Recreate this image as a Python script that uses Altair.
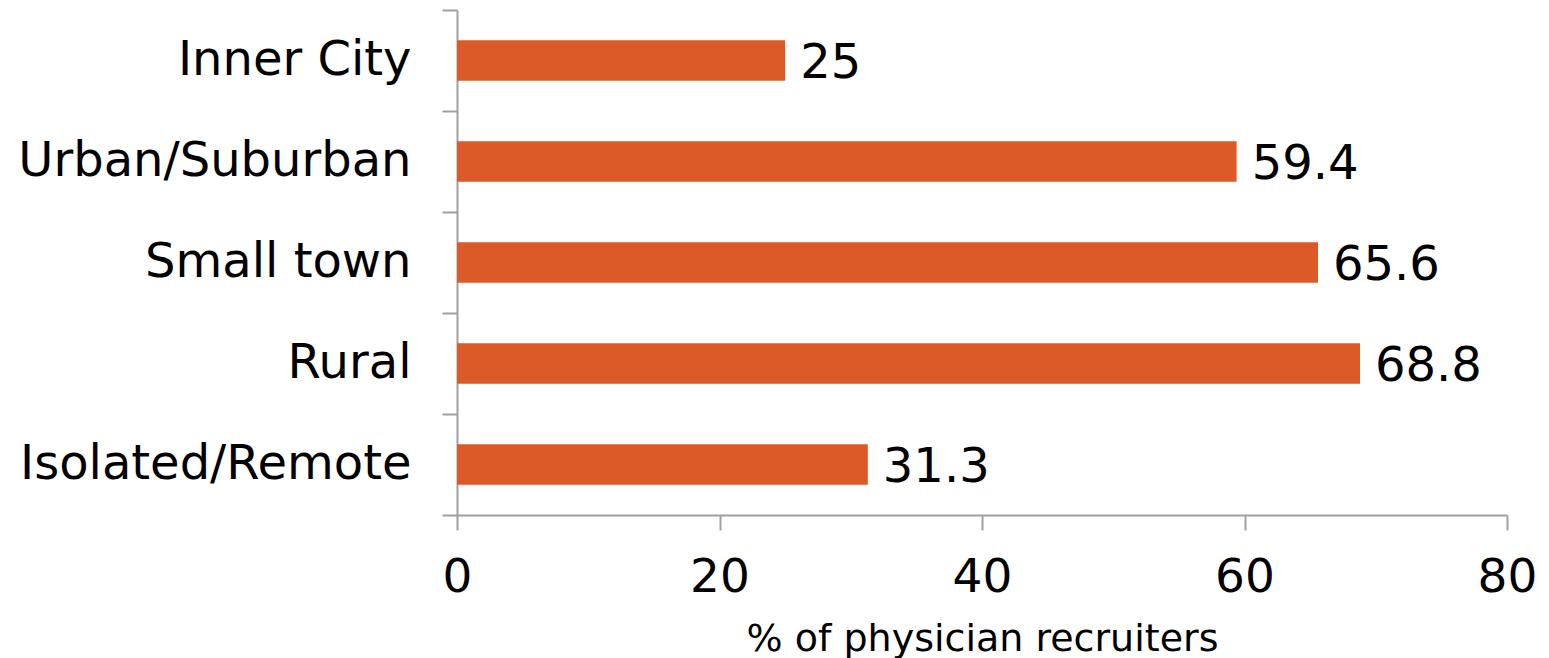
import altair as alt
import pandas as pd

# Share of physician recruiters by community type
categories = ["Inner City", "Urban/Suburban", "Small town", "Rural", "Isolated/Remote"]
values = [25, 59.4, 65.6, 68.8, 31.3]

df = pd.DataFrame({"area": categories, "pct": values})

FONT = "DejaVu Sans"
BAR = "#DC5A27"
AXIS_GREY = "#A0A0A0"

y_enc = alt.Y(
    "area:N",
    sort=categories,
    title=None,
    scale=alt.Scale(paddingInner=0, paddingOuter=0),
    axis=alt.Axis(
        tickBand="extent",
        tickSize=15,
        tickColor=AXIS_GREY,
        tickWidth=2,
        domainColor=AXIS_GREY,
        domainWidth=2,
        labelFont=FONT,
        labelFontSize=48,
        labelColor="black",
        labelPadding=31,
        labelLimit=600,
        grid=False,
    ),
)

x_enc = alt.X(
    "pct:Q",
    title="% of physician recruiters",
    scale=alt.Scale(domain=[0, 80], nice=False),
    axis=alt.Axis(
        values=[0, 20, 40, 60, 80],
        tickSize=15,
        tickColor=AXIS_GREY,
        tickWidth=2,
        domainColor=AXIS_GREY,
        domainWidth=2,
        labelFont=FONT,
        labelFontSize=47,
        labelColor="black",
        labelPadding=24,
        labelFlush=False,
        titleFont=FONT,
        titleFontSize=38,
        titleFontWeight="normal",
        titleColor="black",
        titlePadding=20,
        grid=False,
    ),
)

bars = alt.Chart(df).mark_bar(
    color=BAR, height=alt.RelativeBandSize(0.4)
).encode(x=x_enc, y=y_enc)

labels = alt.Chart(df).mark_text(
    align="left", baseline="middle", dx=15, dy=3, font=FONT, fontSize=48, color="black"
).encode(
    x=alt.X("pct:Q"),
    y=alt.Y("area:N", sort=categories),
    text=alt.Text("pct:Q"),
)

chart = (
    alt.layer(bars, labels)
    .properties(
        width=1050,
        height=505,
        autosize=alt.AutoSizeParams(type="none"),
        padding={"left": 457, "top": 10, "right": 42, "bottom": 143},
        view=alt.ViewBackground(stroke="transparent", strokeWidth=0, strokeOpacity=0),
    )
    .configure_view(strokeWidth=0, stroke="transparent", strokeOpacity=0)
    .configure(background="white")
)

chart.save("out.html", embed_options={"renderer": "svg", "actions": False})
